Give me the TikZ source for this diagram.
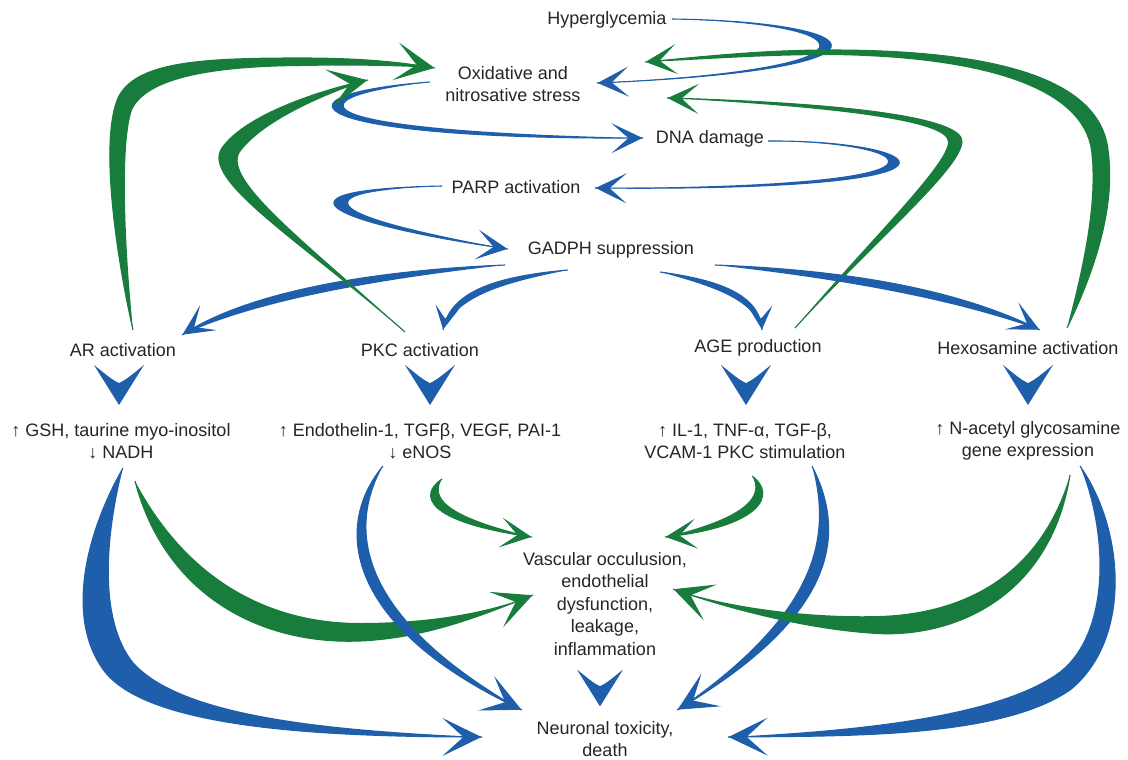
\documentclass[tikz,border=0pt]{standalone}
\usepackage{fontspec}
\setmainfont{Liberation Sans}
\usetikzlibrary{arrows.meta,decorations.markings}
\definecolor{bl}{RGB}{30,94,170}
\definecolor{gr}{RGB}{24,124,60}
\newcommand\swoosh[5][tipM]{\fill[#2] #3 #4 #5 #3 -- cycle; \draw[#2,line width=1.1pt,#1] #3 #4;}
\newcommand\chev[2][1]{\fill[bl,shift={#2},scale=#1] (-25,-20) .. controls (-15,-12) and (-7,-5) .. (0,-2) .. controls (7,-5) and (15,-12) .. (25,-20) -- (0,20) -- cycle;}
\tikzset{
  tipS/.style={postaction={decorate,decoration={markings,mark=at position -0.6pt with {\arrow{Stealth[length=23pt,width=24pt,inset=12pt]}}}}},
  tipM/.style={postaction={decorate,decoration={markings,mark=at position -0.6pt with {\arrow{Stealth[length=31pt,width=30pt,inset=17pt]}}}}},
  tipL/.style={postaction={decorate,decoration={markings,mark=at position -0.6pt with {\arrow{Stealth[length=39pt,width=38pt,inset=21pt]}}}}},
  lbl/.style={font=\fontsize{18}{22.5}\selectfont, align=center, inner sep=0pt, text=black!85}
}
\begin{document}
\begin{tikzpicture}[x=1pt,y=-1pt]
\fill[white] (0,0) rectangle (1128,760);
\useasboundingbox (0,0) rectangle (1128,760);
% nodes
\node[lbl] (hyper) at (607,20) {Hyperglycemia};
\node[lbl] (oxi) at (513,84) {Oxidative and\\nitrosative stress};
\node[lbl] (dna) at (710,139) {DNA damage};
\node[lbl] (parp) at (516,187) {PARP activation};
\node[lbl] (gadph) at (611,250) {GADPH suppression};
\node[lbl] (ar) at (123,350) {AR activation};
\node[lbl] (pkc) at (420,350) {PKC activation};
\node[lbl] (age) at (758,348) {AGE production};
\node[lbl] (hexo) at (1028,348) {Hexosamine activation};
\node[lbl] (gsh) at (121,441) {↑ GSH, taurine myo-inositol\\↓ NADH};
\node[lbl] (endo) at (420,441) {↑ Endothelin-1, TGFβ, VEGF, PAI-1\\↓ eNOS};
\node[lbl] (il) at (745,441) {↑ IL-1, TNF-α, TGF-β,\\VCAM-1 PKC stimulation};
\node[lbl] (nac) at (1028,441) {↑ N-acetyl glycosamine\\gene expression};
\node[lbl] (vasc) at (605,604) {Vascular occulusion,\\endothelial\\dysfunction,\\leakage,\\inflammation};
\node[lbl] (neuro) at (605,739) {Neuronal toxicity,\\death};
% top loops
\swoosh{bl}{([shift={(65,-1)}]hyper.center)}{.. controls (880,22) and (913,70) .. ([shift={(84,-1)}]oxi.center)}{.. controls (897,68) and (864,24) ..}
\swoosh{gr}{([shift={(39,-20)}]hexo.center)}{.. controls (1100,260) and (1115,200) .. (1108,150) .. controls (1100,80) and (1000,50) .. (830,50) .. controls (760,50) and (700,57) .. ([shift={(132,-22)}]oxi.center)}{.. controls (700,60) and (760,55) .. (830,55) .. controls (990,57) and (1082,90) .. (1091,150) .. controls (1097,200) and (1085,260) ..}
\swoosh{gr}{([shift={(37,-20)}]age.center)}{.. controls (870,245) and (960,170) .. (962,142) .. controls (964,118) and (850,103) .. ([shift={(154,14)}]oxi.center)}{.. controls (850,108) and (948,122) .. (948,142) .. controls (948,165) and (865,245) ..}
\swoosh{bl}{([shift={(-83,-2)}]oxi.center)}{.. controls (260,95) and (300,140) .. ([shift={(-67,-1)}]dna.center)}{.. controls (310,131) and (280,100) ..}
\swoosh{bl}{([shift={(58,2)}]dna.center)}{.. controls (930,140) and (1010,192) .. ([shift={(79,1)}]parp.center)}{.. controls (995,187) and (915,142) ..}
\swoosh{bl}{([shift={(-74,-1)}]parp.center)}{.. controls (250,190) and (340,225) .. ([shift={(-103,-1)}]gadph.center)}{.. controls (352,221) and (275,193) ..}
% from GADPH
\swoosh{bl}{([shift={(-106,15)}]gadph.center)}{.. controls (380,270) and (250,290) .. ([shift={(59,-15)}]ar.center)}{.. controls (258,300) and (380,279) ..}
\swoosh[tipS]{bl}{([shift={(-43,20)}]gadph.center)}{.. controls (500,276) and (450,290) .. ([shift={(23,-20)}]pkc.center)}{.. controls (458,296) and (503,283) ..}
\swoosh[tipS]{bl}{([shift={(49,22)}]gadph.center)}{.. controls (720,280) and (760,295) .. ([shift={(4,-18)}]age.center)}{.. controls (753,300) and (716,287) ..}
\swoosh{bl}{([shift={(104,15)}]gadph.center)}{.. controls (850,270) and (960,290) .. ([shift={(12,-18)}]hexo.center)}{.. controls (955,300) and (850,280) ..}
% green feedback on the left
\swoosh[tipL]{gr}{([shift={(10,-20)}]ar.center)}{.. controls (115,250) and (100,140) .. (118,98) .. controls (135,62) and (200,58) .. (300,58) .. controls (360,58) and (400,62) .. ([shift={(-78,-16)}]oxi.center)}{.. controls (400,66) and (360,65) .. (300,66) .. controls (205,67) and (146,80) .. (132,110) .. controls (120,145) and (125,250) ..}
\swoosh[tipL]{gr}{([shift={(-15,-18)}]pkc.center)}{.. controls (300,240) and (200,180) .. (222,148) .. controls (245,115) and (320,90) .. ([shift={(-145,-4)}]oxi.center)}{.. controls (320,96) and (262,122) .. (240,152) .. controls (222,180) and (310,245) ..}
% chevrons
\coordinate (v1) at ([shift={(-4,35)}]ar.center);
\coordinate (v2) at ([shift={(10,35)}]pkc.center);
\coordinate (v3) at ([shift={(-12,37)}]age.center);
\coordinate (v4) at ([shift={(0,37)}]hexo.center);
\coordinate (v5) at ([shift={(-5,-51)}]neuro.center);
\chev{(v1)}\chev{(v2)}\chev{(v3)}\chev{(v4)}\chev[0.92]{(v5)}
% bottom
\swoosh[tipL]{bl}{([shift={(2,27)}]gsh.center)}{.. controls (85,535) and (65,620) .. (105,672) .. controls (150,728) and (320,737) .. ([shift={(-123,-2)}]neuro.center)}{.. controls (320,730) and (180,715) .. (133,662) .. controls (100,620) and (105,540) ..}
\swoosh[tipL]{gr}{([shift={(14,40)}]gsh.center)}{.. controls (165,595) and (260,645) .. (360,641) .. controls (430,638) and (490,612) .. ([shift={(-72,-9)}]vasc.center)}{.. controls (485,614) and (425,623) .. (360,623) .. controls (275,623) and (190,585) ..}
\swoosh[tipL]{bl}{([shift={(-37,25)}]endo.center)}{.. controls (330,530) and (350,630) .. ([shift={(-83,-29)}]neuro.center)}{.. controls (365,620) and (345,535) ..}
\swoosh{gr}{([shift={(22,38)}]endo.center)}{.. controls (418,495) and (425,522) .. ([shift={(-73,-67)}]vasc.center)}{.. controls (440,515) and (432,496) ..}
\swoosh{gr}{([shift={(7,35)}]il.center)}{.. controls (778,495) and (760,527) .. ([shift={(60,-67)}]vasc.center)}{.. controls (746,518) and (764,496) ..}
\swoosh[tipL]{bl}{([shift={(67,25)}]il.center)}{.. controls (850,540) and (830,620) .. ([shift={(72,-29)}]neuro.center)}{.. controls (815,615) and (832,540) ..}
\swoosh[tipL]{gr}{([shift={(42,34)}]nac.center)}{.. controls (1050,600) and (950,640) .. (870,633) .. controls (800,628) and (720,606) .. ([shift={(68,-15)}]vasc.center)}{.. controls (730,608) and (810,618) .. (880,616) .. controls (965,613) and (1040,575) ..}
\swoosh[tipL]{bl}{([shift={(52,25)}]nac.center)}{.. controls (1125,530) and (1132,640) .. (1070,690) .. controls (1000,738) and (850,736) .. ([shift={(123,-2)}]neuro.center)}{.. controls (850,731) and (990,718) .. (1055,675) .. controls (1108,640) and (1110,540) ..}
\end{tikzpicture}
\end{document}
